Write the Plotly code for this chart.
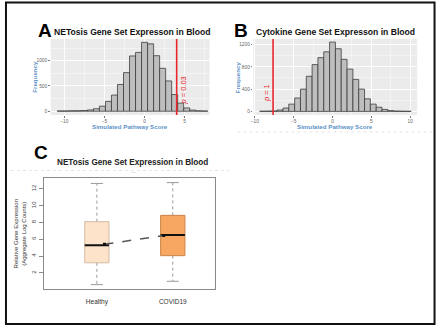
import plotly.graph_objects as go

# ---------------- data ----------------
A_bin_centers = [-10.5, -9.75, -9.0, -8.25, -7.5, -6.75, -6.0, -5.25, -4.5, -3.75, -3.0, -2.25,
                 -1.5, -0.75, 0.0, 0.75, 1.5, 2.25, 3.0, 3.75, 4.5, 5.25, 6.0, 6.75, 7.5]
A_counts = [5, 6, 8, 10, 14, 25, 50, 100, 195, 320, 530, 765, 1095, 1165, 1365, 1335, 1100,
            850, 600, 330, 160, 65, 22, 8, 4]
A_observed = 4.0
A_label = "<i>p</i> = 0.03"

B_bin_centers = [-9.0, -8.25, -7.5, -6.75, -6.0, -5.25, -4.5, -3.75, -3.0, -2.25, -1.5, -0.75,
                 0.0, 0.75, 1.5, 2.25, 3.0, 3.75, 4.5, 5.25, 6.0, 6.75, 7.5, 8.25, 9.0, 9.75]
B_counts = [3, 5, 8, 25, 60, 130, 240, 400, 630, 840, 965, 1070, 1245, 1125, 935, 760, 575,
            400, 225, 130, 75, 35, 14, 6, 3, 2]
B_observed = -7.65
B_label = "<i>p</i> = 1"

C_groups = ["Healthy", "COVID19"]
C_min = [0.6, 1.0]
C_q1 = [3.2, 4.05]
C_median = [5.3, 6.5]
C_q3 = [8.1, 8.85]
C_max = [12.65, 12.75]
C_mean = [5.4, 6.45]

# ---------------- helpers ----------------
W, H = 440, 328
def px(x): return x / W
def py(y): return 1 - y / H

FONT = "Liberation Sans, Arial, sans-serif"
BLUE = "#5E93C8"
RED = "#E8262B"

fig = go.Figure()

# Histograms
for centers, counts, xa, ya in [(A_bin_centers, A_counts, "x", "y"),
                                (B_bin_centers, B_counts, "x2", "y2")]:
    fig.add_trace(go.Bar(x=centers, y=counts, width=0.75, xaxis=xa, yaxis=ya,
                         marker=dict(color="#BEBEBE", line=dict(color="#3C3C3C", width=0.8)),
                         showlegend=False, hoverinfo="skip"))

for xv, xr in [(A_observed, "x"), (B_observed, "x2")]:
    fig.add_shape(type="line", xref=xr, yref=("y domain" if xr == "x" else "y2 domain"),
                  x0=xv, x1=xv, y0=0, y1=1, line=dict(color=RED, width=1.6), layer="above")

fig.add_annotation(x=4.85, y=400, xref="x", yref="y", text=A_label, textangle=-90,
                   showarrow=False, font=dict(family=FONT, size=7.5, color=RED))
fig.add_annotation(x=-8.55, y=330, xref="x2", yref="y2", text=B_label, textangle=-90,
                   showarrow=False, font=dict(family=FONT, size=7.5, color=RED))

# Boxplot panel C
xs = [1, 2]
bw = 0.32
fills = ["#FDE3C9", "#F7A761"]
edges = ["#D3BBA4", "#C98547"]
for i, g in enumerate(C_groups):
    x = xs[i]
    fig.add_trace(go.Scatter(x=[x, x, None, x, x], y=[C_q3[i], C_max[i], None, C_q1[i], C_min[i]],
                             mode="lines", xaxis="x3", yaxis="y3",
                             line=dict(color="#9A9A9A", width=1, dash="dot"),
                             showlegend=False, hoverinfo="skip"))
    fig.add_trace(go.Scatter(x=[x - bw / 4, x + bw / 4, None, x - bw / 4, x + bw / 4],
                             y=[C_max[i], C_max[i], None, C_min[i], C_min[i]],
                             mode="lines", xaxis="x3", yaxis="y3",
                             line=dict(color="#9A9A9A", width=1),
                             showlegend=False, hoverinfo="skip"))
    fig.add_trace(go.Scatter(x=[x - bw / 2, x + bw / 2, x + bw / 2, x - bw / 2, x - bw / 2],
                             y=[C_q1[i], C_q1[i], C_q3[i], C_q3[i], C_q1[i]],
                             mode="lines", fill="toself", fillcolor=fills[i],
                             xaxis="x3", yaxis="y3", line=dict(color=edges[i], width=1),
                             showlegend=False, hoverinfo="skip"))
    fig.add_trace(go.Scatter(x=[x - bw / 2, x + bw / 2], y=[C_median[i], C_median[i]],
                             mode="lines", xaxis="x3", yaxis="y3",
                             line=dict(color="#111111", width=2),
                             showlegend=False, hoverinfo="skip"))

mean_x = [1.1, 1.88]
fig.add_trace(go.Scatter(x=mean_x, y=C_mean, mode="lines+markers", xaxis="x3", yaxis="y3",
                         line=dict(color="#555555", width=1.5, dash="dash"),
                         marker=dict(symbol="square", size=3, color="#111111"),
                         showlegend=False, hoverinfo="skip"))

# ---------------- axes ----------------
hist_x = dict(showgrid=True, gridcolor="white", gridwidth=0.9, zeroline=False,
              ticks="outside", ticklen=1.5, tickcolor="#777", tickfont=dict(family=FONT, size=4.8, color="#666"),
              dtick=5, minor=dict(showgrid=True, gridcolor="white", gridwidth=0.4, dtick=2.5),
              showline=False)
hist_y = dict(showgrid=True, gridcolor="white", gridwidth=0.9, zeroline=False,
              ticks="outside", ticklen=1.5, tickcolor="#777", tickfont=dict(family=FONT, size=4.8, color="#666"),
              showline=False)

fig.update_layout(
    width=W, height=H, margin=dict(l=0, r=0, t=0, b=0),
    paper_bgcolor="white", plot_bgcolor="#EBEBEB",
    showlegend=False,
    xaxis=dict(domain=[px(48), px(208)], range=[-11.7, 8.1], anchor="y", **hist_x),
    yaxis=dict(domain=[py(115), py(39)], range=[-75, 1431], anchor="x", dtick=500,
               minor=dict(showgrid=True, gridcolor="white", gridwidth=0.4, dtick=250), **hist_y),
    xaxis2=dict(domain=[px(252), px(417)], range=[-10.2, 10.9], anchor="y2", **hist_x),
    yaxis2=dict(domain=[py(115), py(39)], range=[-65, 1300], anchor="x2", dtick=400,
                minor=dict(showgrid=True, gridcolor="white", gridwidth=0.4, dtick=200), **hist_y),
    xaxis3=dict(domain=[px(41), px(213)], range=[0.3, 2.55], anchor="y3",
                showgrid=False, zeroline=False, showline=True, linecolor="#8A8A8A", linewidth=1,
                mirror=True, tickvals=xs, ticktext=C_groups, ticks="outside", ticklen=6,
                tickcolor="rgba(0,0,0,0)",
                tickfont=dict(family=FONT, size=6.5, color="#333")),
    yaxis3=dict(domain=[py(289), py(178)], range=[0.08, 13.3], anchor="x3",
                showgrid=False, zeroline=False, showline=True, linecolor="#8A8A8A", linewidth=1,
                mirror=True, tickvals=[2, 4, 6, 8, 10, 12], ticks="outside", ticklen=4,
                tickcolor="#8A8A8A", tickangle=-90,
                tickfont=dict(family=FONT, size=6, color="#444")),
)
fig.add_shape(type="rect", xref="x3 domain", yref="y3 domain", x0=0, x1=1, y0=0, y1=1,
              fillcolor="white", line=dict(width=0), layer="below")

# ---------------- texts ----------------
def ann(x, y, text, size, color="#111", bold=False, angle=0, xanchor="center"):
    fig.add_annotation(x=px(x), y=py(y), xref="paper", yref="paper", text=(f"<b>{text}</b>" if bold else text),
                       showarrow=False, textangle=angle, xanchor=xanchor, yanchor="middle",
                       font=dict(family=FONT, size=size, color=color))

ann(42, 31, "A", 19, "#000", True)
ann(130, 32, "NETosis Gene Set Expresson in Blood", 8.6, "#111", True)
ann(240, 31, "B", 19, "#000", True)
ann(334.5, 32, "Cytokine Gene Set Expresson in Blood", 8.6, "#111", True)
ann(38, 152.5, "C", 19, "#000", True)
ann(130, 162, "NETosis Gene Set Expression in Blood", 8.2, "#222", True)

ann(128, 126.5, "Simulated Pathway Score", 6.2, BLUE, True)
ann(334.5, 126.5, "Simulated Pathway Score", 6.2, BLUE, True)
ann(31, 77, "Frequency", 6.2, BLUE, True, -90)
ann(236, 77, "Frequency", 6.2, BLUE, True, -90)

ann(17, 233.5, "Relative Gene Expression<br>(Aggregate Log Counts)", 6, "#333", False, -90)
ann(131, 172, "—", 5, "#BBB")

fig.add_shape(type="line", xref="paper", yref="paper", x0=px(8), x1=px(228), y0=py(170.5), y1=py(170.5),
              line=dict(color="#DDDDDD", width=0.8, dash="dot"))
fig.add_shape(type="line", xref="paper", yref="paper", x0=px(236), x1=px(432), y0=py(132), y1=py(132),
              line=dict(color="#DDDDDD", width=0.8, dash="dot"))

fig.add_shape(type="rect", xref="paper", yref="paper", x0=px(3), x1=px(434.5), y0=py(324), y1=py(2.5),
              line=dict(color="#111", width=2))

fig.write_html("out.html", config={"displayModeBar": False, "staticPlot": True},
               post_script="document.body.style.margin='0';document.body.style.padding='0';")
